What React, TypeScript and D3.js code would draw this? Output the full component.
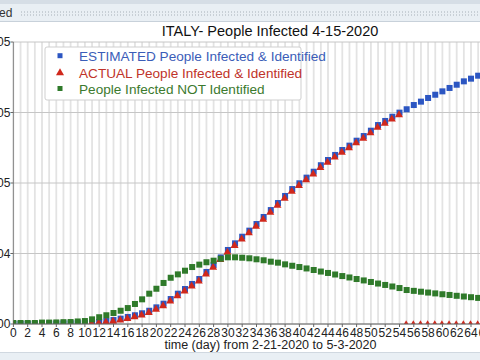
import React from "react";
import * as d3 from "d3";

// Estimated infected & identified (day 0 .. 66)
const estimated = [
  20, 60, 100, 150, 200, 260, 320, 400, 480, 560,
  650, 900, 1400, 2100, 2800, 3800, 5000, 6200, 7600, 9400,
  11800, 14400, 17700, 21500, 24800, 28400, 31900, 36900, 41800, 47200,
  52500, 57200, 61900, 66200, 70900, 75900, 80800, 85800, 90800, 95700,
  99800, 103800, 108000, 112600, 116300, 119900, 123400, 126500, 130000, 133300,
  137100, 141100, 144000, 147000, 149900, 152300, 155300, 157700, 160300, 162600,
  165000, 167400, 169700, 172100, 174000, 176100, 178000,
];
// Actual infected & identified (0 after the report date)
const actual = [
  20, 60, 100, 150, 200, 260, 320, 400, 480, 560,
  600, 800, 1200, 1800, 2400, 3300, 4400, 5600, 6900, 8600,
  10900, 13400, 16700, 20500, 23800, 27400, 30900, 35900, 40700, 46100,
  51400, 56100, 60800, 65100, 69800, 74800, 79700, 84700, 89700, 94600,
  98700, 102700, 106900, 111500, 115200, 118800, 122300, 125400, 128900, 132200,
  136000, 140000, 142900, 145900, 148800, 0, 0, 0, 0, 0,
  0, 0, 0, 0, 0, 0, 0,
];
// Infected NOT identified
const notIdentified = [
  700, 700, 700, 700, 1000, 1000, 1100, 1300, 1400, 1800,
  2100, 3300, 4800, 6200, 7800, 9400, 11300, 14200, 17500, 21500,
  25000, 29100, 32800, 35200, 37800, 40400, 42100, 43800, 44900, 46300,
  47300, 47300, 47000, 46600, 45900, 45200, 44200, 43500, 42300, 41300,
  40400, 39400, 38300, 37200, 36200, 35100, 34000, 33000, 31900, 30900,
  29800, 28700, 27700, 26600, 25500, 24100, 23500, 22900, 22300, 21700,
  21100, 20600, 20000, 19500, 19000, 18500, 18000,
];

const yTicks = [0, 50000, 100000, 150000, 200000];
const yTickLabels = ["0.0E+00", "5.0E+04", "1.0E+05", "1.5E+05", "2.0E+05"];
const xTicks = d3.range(0, 74, 2);
const legendLabels = [
  "ESTIMATED People Infected & Identified",
  "ACTUAL People Infected & Identified",
  "People Infected NOT Identified",
];

const BLUE = "#2c56c2";
const RED = "#d0281c";
const GREEN = "#2f7a2a";
const FONT = "'Liberation Sans', Arial, sans-serif";

export default function App() {
  const W = 480, H = 360;
  const left = 13.4, top = 42, bottom = 324;
  const x = d3.scaleLinear().domain([0, 72]).range([left, left + 7.15 * 72]);
  const y = d3.scaleLinear().domain([0, 200000]).range([bottom, top]);
  const days = d3.range(0, 73);
  const sq = 6;
  const tri = d3.symbol().type(d3.symbolTriangle).size(28)();

  return (
    <svg width={W} height={H} style={{ position: "fixed", left: 0, top: 0, background: "#fff" }} fontFamily={FONT}>
      <defs>
        <clipPath id="plot">
          <rect x={left} y={top - 5} width={W} height={bottom - top + 5} />
        </clipPath>
      </defs>
      {/* window header */}
      <rect x={0} y={0} width={W} height={22} fill="#e9eff4" />
      <rect x={0} y={0} width={W} height={4} fill="#d6dee6" />
      <line x1={0} x2={W} y1={21.5} y2={21.5} stroke="#c8d1da" />
      <text x={-1} y={17} fontSize={12} fill="#333">ed</text>
      <line x1={21} x2={W} y1={12} y2={12} stroke="#a7b0b8" strokeDasharray="1,2" />
      <line x1={21} x2={W} y1={15} y2={15} stroke="#a7b0b8" strokeDasharray="1,2" />
      {/* footer */}
      <rect x={0} y={352} width={W} height={8} fill="#e9eff4" />
      <line x1={0} x2={W} y1={352.5} y2={352.5} stroke="#d0d8e0" />

      {/* title */}
      <text x={270} y={36} textAnchor="middle" fontSize={14.5} fill="#111">ITALY- People Infected 4-15-2020</text>

      {/* vertical grid */}
      {days.map((d) => (
        <line key={"vg" + d} x1={x(d)} x2={x(d)} y1={top} y2={bottom} stroke="#e3e3e3" strokeWidth={1.8} />
      ))}
      {/* horizontal grid */}
      {yTicks.map((t) => (
        <line key={"hg" + t} x1={left} x2={W} y1={y(t)} y2={y(t)} stroke="#c6c6c6" strokeWidth={1} />
      ))}

      {/* axes */}
      <line x1={left} x2={left} y1={top} y2={bottom} stroke="#888" />
      {yTicks.map((t, i) => (
        <g key={"yt" + t}>
          <line x1={left - 3} x2={left} y1={y(t)} y2={y(t)} stroke="#666" />
          <text x={left - 3} y={y(t) + 4} textAnchor="end" fontSize={12} fill="#222">{yTickLabels[i]}</text>
        </g>
      ))}
      {xTicks.map((t) => (
        <g key={"xt" + t}>
          <line x1={x(t)} x2={x(t)} y1={bottom} y2={bottom + 3} stroke="#666" />
          <text x={x(t)} y={336.5} textAnchor="middle" fontSize={12} fill="#222">{t}</text>
        </g>
      ))}
      <text x={270.5} y={349} textAnchor="middle" fontSize={12.5} fill="#222">time (day) from 2-21-2020 to 5-3-2020</text>

      {/* data */}
      <g clipPath="url(#plot)">
        {estimated.map((v, i) => (
          <rect key={"b" + i} x={x(i) - sq / 2} y={y(v) - sq / 2} width={sq} height={sq} fill={BLUE} />
        ))}
        {actual.map((v, i) => (
          <path key={"r" + i} d={tri} transform={`translate(${x(i) - 0.5},${y(v) + 0.8})`} fill={RED} />
        ))}
        {notIdentified.map((v, i) => (
          <rect key={"g" + i} x={x(i) - sq / 2} y={y(v) - sq / 2} width={sq} height={sq} fill={GREEN} />
        ))}
      </g>
      <line x1={left} x2={W} y1={bottom} y2={bottom} stroke="#666" />

      {/* legend */}
      <rect x={45} y={47} width={256} height={53} fill="#fff" stroke="#cfcfcf" rx={2} />
      <rect x={60 - 2.5} y={55.7 - 2.5} width={5} height={5} fill={BLUE} />
      <path d={tri} transform="translate(60,73)" fill={RED} />
      <rect x={60 - 2.5} y={88.5 - 2.5} width={5} height={5} fill={GREEN} />
      <text x={79} y={61} fontSize={13.6} fill="#3b5db8">{legendLabels[0]}</text>
      <text x={79} y={77.5} fontSize={13.6} fill="#c0332a">{legendLabels[1]}</text>
      <text x={79} y={93.5} fontSize={13.6} fill="#3c7a2e">{legendLabels[2]}</text>
    </svg>
  );
}
